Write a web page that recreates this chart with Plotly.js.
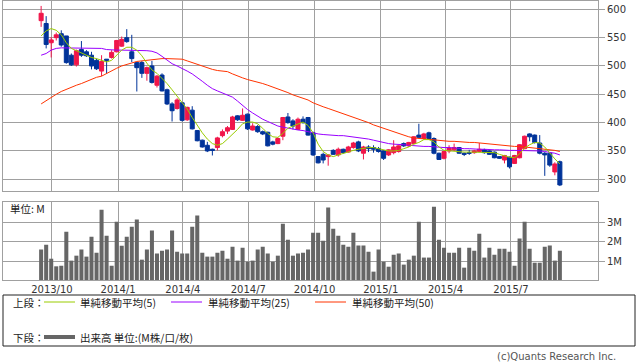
<!DOCTYPE html>
<html>
<head>
<meta charset="utf-8">
<script src="https://cdn.plot.ly/plotly-3.0.1.min.js"></script>
<style>html,body{margin:0;padding:0;background:#fff;}#chart{width:638px;height:362px;}</style>
</head>
<body>
<div id="chart"></div>
<script>
// ---- data (weekly, starting week of 2013-09-16) ----
const startDate = '2013-09-16';
const openP  = [580,575,541,550,557,553,519,502,529,525,519,510,491,512,515,525,535,550,525,506,
                506,487,500,466,484,458,433,425,435,405,422,386,369,360,353,356,377,385,388,412,
                404,415,387,393,384,383,366,363,376,410,403,388,406,409,382,340,344,340,351,343,
                353,348,356,366,346,357,356,354,350,343,347,349,363,359,363,378,372,382,372,346,
                337,350,352,356,346,347,347,349,352,350,348,340,334,339,328,338,354,380,378,364,
                346,346,313,331];
const highP  = [606,588,551,559,563,553,522,529,544,528,525,513,519,512,528,546,552,565,555,506,
                509,499,509,484,487,460,436,443,436,428,429,387,370,366,354,375,388,394,412,413,
                425,416,399,396,386,384,368,374,410,417,406,409,411,410,384,341,347,344,353,356,
                354,359,366,368,359,360,360,357,351,353,369,360,365,366,376,398,382,384,374,347,
                350,360,363,357,347,352,352,364,354,351,349,341,343,340,343,362,377,381,379,378,
                348,347,330,333];
const lowP   = [569,531,515,545,534,504,500,499,516,516,494,493,482,487,513,524,534,541,507,455,
                479,474,469,462,455,431,402,423,402,403,388,367,356,348,342,351,374,380,387,403,
                403,387,386,382,378,358,360,362,369,398,388,387,398,377,341,328,328,324,343,340,
                345,347,354,348,335,348,347,347,334,341,344,347,357,357,362,372,370,370,344,334,
                335,346,350,345,341,343,345,348,345,343,337,336,328,319,327,337,353,367,363,344,
                306,322,307,288];
const closeP = [593,538,546,555,537,506,502,527,519,518,500,495,508,510,524,545,547,543,513,497,
                487,497,471,482,456,433,421,440,404,427,389,368,357,350,351,373,384,391,410,405,
                413,389,394,384,380,359,362,372,409,400,394,406,400,378,343,329,334,343,344,353,
                347,357,364,350,357,354,353,349,337,352,357,359,359,365,375,374,380,372,346,335,
                349,355,356,346,344,346,350,353,347,344,338,337,342,322,342,361,376,375,365,346,
                343,325,327,290];
const volumeM = [1.60,1.86,1.12,0.72,0.75,2.54,1.02,1.28,1.60,1.23,2.28,1.44,3.70,2.33,0.75,3.07,1.80,2.28,2.80,3.18,
                 1.07,1.60,2.60,1.39,1.54,1.60,2.60,1.49,1.39,1.39,2.80,3.39,1.44,1.23,1.23,1.44,1.54,1.12,1.75,1.02,
                 1.70,0.96,1.02,1.60,1.75,1.39,0.96,1.28,2.96,2.12,1.28,1.39,1.44,1.60,2.49,2.49,2.07,3.81,2.70,2.33,
                 1.86,1.75,2.49,1.81,1.81,1.49,0.44,1.60,0.96,0.70,1.33,1.39,0.81,1.07,1.28,3.07,1.18,1.18,3.86,2.12,
                 1.70,1.44,1.44,1.70,0.65,1.70,1.54,2.44,1.18,1.70,1.33,1.65,1.65,1.49,0.75,2.18,3.07,1.65,0.91,0.91,
                 1.75,1.81,1.02,1.54];
const ma5  = [553,562,566,563,555,541,531,527,522,519,515,513,510,507,510,519,528,533,533,528,
              518,505,493,487,478,469,458,447,437,424,409,395,382,371,363,360,363,371,379,388,
              398,401,401,398,390,381,375,374,381,390,394,398,401,395,382,362,349,343,340,343,
              346,348,351,353,355,356,356,354,351,350,350,351,354,357,362,365,370,370,366,357,
              351,350,349,348,348,348,348,348,348,348,347,344,341,339,338,345,355,361,365,364,
              357,346,336,327];
const ma25 = [519,522,528,531,532,532,532,532,532,532,532,532,531,529,528,528,528,528,528,528,
              528,527,526,523,517,510,504,500,496,491,486,480,473,466,460,456,452,449,445,438,
              430,423,417,411,406,402,398,394,392,390,388,387,386,384,381,380,379,378,378,377,
              377,376,375,374,372,371,369,367,364,363,362,362,361,360,359,359,358,358,357,357,
              356,356,355,355,354,354,353,353,353,352,352,352,351,351,351,351,350,350,350,350,
              349,348,346,343];
const ma50 = [433,439,445,450,455,459,462,466,469,473,477,480,482,487,492,496,500,503,506,508,
              509,510,512,513,513,513,513,513,512,509,506,502,499,496,494,492,491,490,486,482,
              479,476,474,472,469,466,463,460,456,453,449,446,443,440,435,431,428,425,422,419,
              416,413,410,407,403,400,396,393,389,386,383,381,378,375,373,372,371,370,369,368,
              368,367,367,366,366,365,365,364,364,363,362,361,360,359,358,358,357,357,356,355,
              354,353,351,349];
const quarterTicks = ['2013-10-01','2014-01-01','2014-04-01','2014-07-01','2014-10-01','2015-01-01','2015-04-01','2015-07-01'];
const quarterLabels = ['2013/10','2014/1','2014/4','2014/7','2014/10','2015/1','2015/4','2015/7'];
const priceTicks = [300,350,400,450,500,550,600];
const volTicks = [1,2,3];
const volTickLabels = ['1M','2M','3M'];

// weekly dates
const dates = [];
{
  const t0 = Date.parse(startDate + 'T00:00:00Z');
  for (let i = 0; i < closeP.length; i++) {
    dates.push(new Date(t0 + i * 7 * 86400000).toISOString().slice(0, 10));
  }
}

// ---- styling ----
const RED = '#f0164a', BLUE = '#003399', GRID = '#a0a0a0';
const C5 = '#99cc00', C25 = '#9900ff', C50 = '#ff3300', VOLC = '#666666';
const W = 638, H = 362, ML = 3, MR = 40, MT = 1, MB = 82;
const PW = W - ML - MR, PH = H - MT - MB;
const px = x => (x - ML) / PW;
const py = y => (H - MB - y) / PH;
const xRange = ['2013-07-25', '2015-10-30'];
const tickFont = {family: 'DejaVu Sans, sans-serif', size: 10, color: '#333'};
const jpFont = {family: 'Noto Sans CJK JP, sans-serif', size: 10.5, color: '#222'};

const traces = [
  {type: 'candlestick', x: dates, open: openP, high: highP, low: lowP, close: closeP,
   xaxis: 'x', yaxis: 'y', whiskerwidth: 0, showlegend: false, hoverinfo: 'none',
   increasing: {line: {color: RED, width: 1}, fillcolor: RED},
   decreasing: {line: {color: BLUE, width: 1}, fillcolor: BLUE}},
  {type: 'scatter', mode: 'lines', x: dates, y: ma50, xaxis: 'x', yaxis: 'y',
   line: {color: C50, width: 1}, showlegend: false, hoverinfo: 'none'},
  {type: 'scatter', mode: 'lines', x: dates, y: ma25, xaxis: 'x', yaxis: 'y',
   line: {color: C25, width: 1}, showlegend: false, hoverinfo: 'none'},
  {type: 'scatter', mode: 'lines', x: dates, y: ma5, xaxis: 'x', yaxis: 'y',
   line: {color: C5, width: 1}, showlegend: false, hoverinfo: 'none'},
  {type: 'bar', x: dates, y: volumeM, xaxis: 'x2', yaxis: 'y2',
   marker: {color: VOLC, line: {width: 0}}, showlegend: false, hoverinfo: 'none'}
];

const axCommon = {showline: true, mirror: true, linecolor: GRID, linewidth: 1,
  showgrid: true, gridcolor: GRID, gridwidth: 1, zeroline: false, fixedrange: true};

const shapes = [
  {type: 'rect', xref: 'paper', yref: 'paper', x0: px(3), x1: px(635), y0: py(295), y1: py(346),
   line: {color: '#222', width: 1}, fillcolor: 'rgba(0,0,0,0)'},
  {type: 'line', xref: 'paper', yref: 'paper', x0: px(44), x1: px(75), y0: py(302), y1: py(302), line: {color: C5, width: 1}},
  {type: 'line', xref: 'paper', yref: 'paper', x0: px(171), x1: px(202), y0: py(302), y1: py(302), line: {color: C25, width: 1}},
  {type: 'line', xref: 'paper', yref: 'paper', x0: px(315), x1: px(346), y0: py(302), y1: py(302), line: {color: C50, width: 1}},
  {type: 'line', xref: 'paper', yref: 'paper', x0: px(44), x1: px(75), y0: py(337), y1: py(337), line: {color: VOLC, width: 4}}
];

const ann = (x, y, text, font, xanchor) => ({xref: 'paper', yref: 'paper', x: px(x), y: py(y), text: text,
  showarrow: false, xanchor: xanchor || 'left', yanchor: 'middle', font: font});

const annotations = [
  ann(8, 208, '単位: M', jpFont),
  ann(11, 302, '上段：', jpFont),
  ann(78, 302, '単純移動平均(5)', jpFont),
  ann(206, 302, '単純移動平均(25)', jpFont),
  ann(350, 302, '単純移動平均(50)', jpFont),
  ann(11, 337, '下段：', jpFont),
  ann(78, 337, '出来高 単位:(M株/口/枚)', jpFont),
  ann(618, 356, '(c)Quants Research Inc.', {family: 'DejaVu Sans, sans-serif', size: 10, color: '#555'}, 'right')
];

const layout = {
  width: W, height: H,
  margin: {l: ML, r: MR, t: MT, b: MB, pad: 0},
  paper_bgcolor: '#fff', plot_bgcolor: '#fff',
  showlegend: false, hovermode: false,
  boxgap: 0.2, boxgroupgap: 0, bargap: 0.2,
  xaxis: Object.assign({}, axCommon, {anchor: 'y', domain: [0, 1], type: 'date', range: xRange,
    tickmode: 'array', tickvals: quarterTicks, ticktext: quarterLabels, showticklabels: false, ticks: '',
    rangeslider: {visible: false}}),
  yaxis: Object.assign({}, axCommon, {anchor: 'x', domain: [py(191), 1], range: [279.3, 614.7],
    side: 'right', tickmode: 'array', tickvals: priceTicks, ticks: 'outside', ticklen: 6, tickcolor: GRID,
    tickfont: tickFont}),
  xaxis2: Object.assign({}, axCommon, {anchor: 'y2', domain: [0, 1], type: 'date', range: xRange,
    tickmode: 'array', tickvals: quarterTicks, ticktext: quarterLabels, ticks: '', tickfont: tickFont}),
  yaxis2: Object.assign({}, axCommon, {anchor: 'x2', domain: [0, py(201.7)], range: [0, 4.12],
    side: 'right', tickmode: 'array', tickvals: volTicks, ticktext: volTickLabels, ticks: 'outside', ticklen: 6,
    tickcolor: GRID, tickfont: tickFont}),
  shapes: shapes,
  annotations: annotations
};

Plotly.newPlot('chart', traces, layout, {staticPlot: true, displayModeBar: false});
</script>
</body>
</html>
